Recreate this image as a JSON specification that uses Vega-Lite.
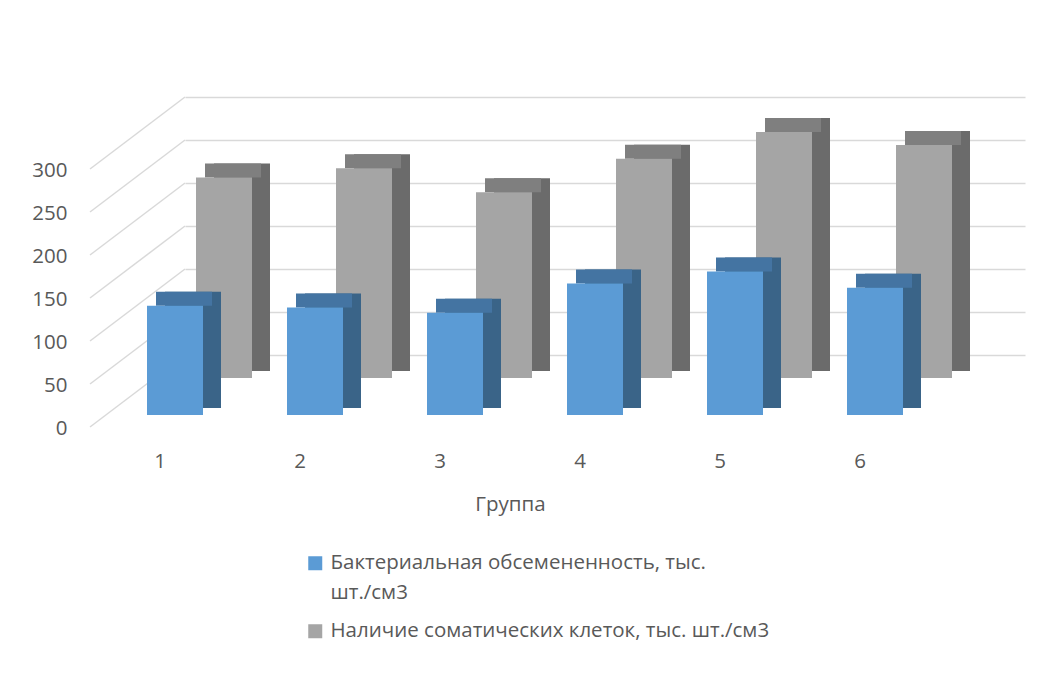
{
  "$schema": "https://vega.github.io/schema/vega-lite/v6.json",
  "autosize": {"type": "none"},
  "padding": {"left": 185, "top": 97, "right": 24, "bottom": 324},
  "width": 840,
  "height": 258,
  "background": "white",
  "config": {
    "view": {"stroke": null},
    "font": "Open Sans",
    "axis": {"labelFont": "Open Sans", "labelFontSize": 20.5, "labelColor": "#595959", "titleFont": "Open Sans", "titleFontSize": 20.5, "titleColor": "#595959", "titleFontWeight": "normal"}
  },
  "datasets": {
    "bars": [
      {"group": "1", "s": "b", "series": "Бактериальная обсемененность, тыс. шт./см3", "value": 127},
      {"group": "2", "s": "b", "series": "Бактериальная обсемененность, тыс. шт./см3", "value": 125},
      {"group": "3", "s": "b", "series": "Бактериальная обсемененность, тыс. шт./см3", "value": 119},
      {"group": "4", "s": "b", "series": "Бактериальная обсемененность, тыс. шт./см3", "value": 153},
      {"group": "5", "s": "b", "series": "Бактериальная обсемененность, тыс. шт./см3", "value": 167},
      {"group": "6", "s": "b", "series": "Бактериальная обсемененность, тыс. шт./см3", "value": 148},
      {"group": "1", "s": "g", "series": "Наличие соматических клеток, тыс. шт./см3", "value": 233},
      {"group": "2", "s": "g", "series": "Наличие соматических клеток, тыс. шт./см3", "value": 244},
      {"group": "3", "s": "g", "series": "Наличие соматических клеток, тыс. шт./см3", "value": 216},
      {"group": "4", "s": "g", "series": "Наличие соматических клеток, тыс. шт./см3", "value": 255},
      {"group": "5", "s": "g", "series": "Наличие соматических клеток, тыс. шт./см3", "value": 286},
      {"group": "6", "s": "g", "series": "Наличие соматических клеток, тыс. шт./см3", "value": 271}
    ],
    "ticks": [{"v": 0}, {"v": 50}, {"v": 100}, {"v": 150}, {"v": 200}, {"v": 250}, {"v": 300}]
  },
  "data": {"name": "bars"},
  "encoding": {
    "x": {
      "field": "group", "type": "nominal",
      "scale": {"paddingInner": 0, "paddingOuter": 0},
      "axis": {"domain": false, "ticks": false, "tickSize": 0, "labelAngle": 0, "labelPadding": 0, "labelOffset": -95, "offset": 96, "title": "Группа", "titleX": 325, "titleY": 59, "titleAlign": "center", "titleBaseline": "alphabetic", "grid": false}
    },
    "y": {
      "field": "value", "type": "quantitative",
      "scale": {"domain": [0, 300], "nice": false},
      "axis": {"values": [0, 50, 100, 150, 200, 250, 300], "domain": false, "ticks": false, "tickSize": 0, "labelPadding": 0, "offset": 118, "labelOffset": 73, "grid": true, "gridColor": "#d9d9d9", "gridWidth": 1.5, "title": null}
    }
  },
  "layer": [
    {
      "data": {"name": "ticks"},
      "mark": {"type": "rule", "color": "#d9d9d9", "strokeWidth": 1.5, "xOffset": -70, "x2Offset": -165, "y2Offset": 72},
      "encoding": {
        "x": {"datum": "1"},
        "x2": {"datum": "1"},
        "y": {"field": "v", "type": "quantitative"},
        "y2": {"field": "v"}
      }
    },
    {
      "transform": [{"filter": "datum.s == 'g'"}],
      "mark": {"type": "bar", "width": 56, "xOffset": -13, "yOffset": 9, "y2Offset": 16, "color": "#6b6b6b"},
      "encoding": {"y2": {"datum": 0}}
    },
    {
      "transform": [{"filter": "datum.s == 'g'"}],
      "mark": {"type": "bar", "width": 56, "xOffset": -22, "yOffset": 9, "y2Offset": 23, "color": "#7f7f7f"},
      "encoding": {"y2": {"field": "value"}}
    },
    {
      "transform": [{"filter": "datum.s == 'g'"}],
      "mark": {"type": "bar", "width": 56, "xOffset": -31, "yOffset": 23, "y2Offset": 23},
      "encoding": {
        "y2": {"datum": 0},
        "color": {
          "field": "series", "type": "nominal",
          "scale": {"domain": ["Бактериальная обсемененность, тыс. шт./см3", "Наличие соматических клеток, тыс. шт./см3"], "range": ["#5b9bd5", "#a5a5a5"]},
          "legend": {
            "orient": "none", "legendX": 120, "legendY": 456, "title": null, "padding": 0,
            "symbolType": "square", "symbolSize": 196, "symbolStrokeWidth": 0,
            "labelFont": "Open Sans", "labelFontSize": 20.5, "labelColor": "#595959", "labelOffset": 5, "labelLimit": 0,
            "rowPadding": 17,
            "labelExpr": "datum.label == 'Бактериальная обсемененность, тыс. шт./см3' ? ['Бактериальная обсемененность, тыс.', 'шт./см3'] : datum.label",
            "encode": {"labels": {"update": {"lineHeight": {"value": 30}}}}
          }
        }
      }
    },
    {
      "transform": [{"filter": "datum.s == 'b'"}],
      "mark": {"type": "bar", "width": 56, "xOffset": -62, "yOffset": 46, "y2Offset": 53, "color": "#3a6488"},
      "encoding": {"y2": {"datum": 0}}
    },
    {
      "transform": [{"filter": "datum.s == 'b'"}],
      "mark": {"type": "bar", "width": 56, "xOffset": -71, "yOffset": 46, "y2Offset": 60, "color": "#4474a2"},
      "encoding": {"y2": {"field": "value"}}
    },
    {
      "transform": [{"filter": "datum.s == 'b'"}],
      "mark": {"type": "bar", "width": 56, "xOffset": -80, "yOffset": 60, "y2Offset": 60},
      "encoding": {
        "y2": {"datum": 0},
        "color": {"field": "series", "type": "nominal"}
      }
    }
  ]
}
